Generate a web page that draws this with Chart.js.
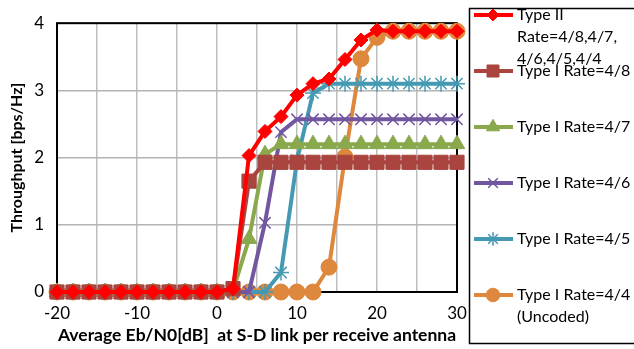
<!DOCTYPE html>
<html>
<head>
<meta charset="utf-8">
<script src="https://cdn.jsdelivr.net/npm/chart.js@4/dist/chart.umd.min.js"></script>
<style>
  html, body { margin: 0; padding: 0; background: #fff; }
  #wrap { width: 634px; height: 349px; position: relative; }
</style>
</head>
<body>
<div id="wrap"><canvas id="grafico"></canvas></div>
<script>
// Eb/N0 values (dB)
const ebno = [-20, -18, -16, -14, -12, -10, -8, -6, -4, -2, 0, 2, 4, 6, 8, 10, 12, 14, 16, 18, 20, 22, 24, 26, 28, 30];

// throughput [bps/Hz] per scheme
const typeII   = [0, 0, 0, 0, 0, 0, 0, 0, 0, 0, 0, 0.05, 2.03, 2.39, 2.61, 2.93, 3.10, 3.17, 3.46, 3.75, 3.90, 3.88, 3.88, 3.88, 3.88, 3.88];
const rate48   = [0, 0, 0, 0, 0, 0, 0, 0, 0, 0, 0, 0.05, 1.65, 1.93, 1.93, 1.93, 1.93, 1.93, 1.93, 1.93, 1.93, 1.93, 1.93, 1.93, 1.93, 1.93];
const rate47   = [0, 0, 0, 0, 0, 0, 0, 0, 0, 0, 0, 0.02, 0.79, 2.05, 2.20, 2.20, 2.20, 2.20, 2.20, 2.20, 2.20, 2.20, 2.20, 2.20, 2.20, 2.20];
const rate46   = [0, 0, 0, 0, 0, 0, 0, 0, 0, 0, 0, 0, 0, 1.03, 2.38, 2.57, 2.57, 2.57, 2.57, 2.57, 2.57, 2.57, 2.57, 2.57, 2.57, 2.57];
const rate45   = [0, 0, 0, 0, 0, 0, 0, 0, 0, 0, 0, 0, 0, 0, 0.29, 1.96, 2.96, 3.10, 3.10, 3.10, 3.10, 3.10, 3.10, 3.10, 3.10, 3.10];
const rate44   = [0, 0, 0, 0, 0, 0, 0, 0, 0, 0, 0, 0, 0, 0, 0, 0, 0, 0.37, 2.01, 3.47, 3.79, 3.88, 3.88, 3.88, 3.88, 3.88];

const xTicks = [-20, -10, 0, 10, 20, 30];
const yTicks = [0, 1, 2, 3, 4];

const legendLines = [
    ['Type II', 'Rate=4/8,4/7,', '4/6,4/5,4/4'],
    ['Type I Rate=4/8'],
    ['Type I Rate=4/7'],
    ['Type I Rate=4/6'],
    ['Type I Rate=4/5'],
    ['Type I Rate=4/4', '(Uncoded)']
];

const FONT = 'Lato, "Liberation Sans", sans-serif';

function pontos(valores) {
    return valores.map((v, i) => ({ x: ebno[i], y: v }));
}

function serie(label, valores, cor, estilo, raio, bw) {
    return {
        label: label,
        data: pontos(valores),
        borderColor: cor,
        backgroundColor: cor,
        borderWidth: 4,
        pointStyle: estilo,
        pointRadius: raio,
        pointBorderWidth: bw,
        pointBackgroundColor: cor,
        pointBorderColor: cor,
        showLine: true,
        tension: 0,
        clip: false
    };
}

// draws the frame around the plot area and the legend box on the right
const molduraLegenda = {
    id: 'molduraLegenda',
    beforeDatasetsDraw(chart) {
        const { ctx, chartArea: a } = chart;
        ctx.save();
        ctx.strokeStyle = '#000';
        ctx.lineWidth = 2;
        ctx.strokeRect(a.left, a.top, a.right - a.left, a.bottom - a.top);
        ctx.restore();
    },
    afterDraw(chart) {
        const ctx = chart.ctx;
        const ys = [15, 71, 127, 183, 239, 295];
        ctx.save();
        ctx.strokeStyle = '#000';
        ctx.lineWidth = 1.5;
        ctx.strokeRect(469.5, 8.5, 200, 335);
        chart.data.datasets.forEach((ds, i) => {
            const y = ys[i];
            ctx.strokeStyle = ds.borderColor;
            ctx.lineWidth = 4;
            ctx.beginPath();
            ctx.moveTo(474, y);
            ctx.lineTo(513, y);
            ctx.stroke();
            ctx.fillStyle = ds.borderColor;
            ctx.strokeStyle = ds.borderColor;
            ctx.lineWidth = ds.pointBorderWidth;
            Chart.helpers.drawPoint(ctx, {
                pointStyle: ds.pointStyle,
                radius: ds.pointRadius * 0.85,
                rotation: 0,
                borderWidth: ds.pointBorderWidth
            }, 493, y);
            ctx.fillStyle = '#000';
            ctx.font = '16px ' + FONT;
            ctx.textAlign = 'left';
            ctx.textBaseline = 'middle';
            legendLines[i].forEach((t, k) => {
                ctx.fillText(t, 517, y + k * 22);
            });
        });
        ctx.restore();
    }
};

const ctx = document.getElementById('grafico').getContext('2d');
const chart = new Chart(ctx, {
    type: 'scatter',
    data: {
        datasets: [
            serie('Type II Rate=4/8,4/7,4/6,4/5,4/4', typeII, '#FF0000', 'rectRot', 7, 1),
            serie('Type I Rate=4/8', rate48, '#A9443F', 'rect', 10, 1),
            serie('Type I Rate=4/7', rate47, '#8AA84C', 'triangle', 9, 1),
            serie('Type I Rate=4/6', rate46, '#7257A0', 'crossRot', 8, 1.5),
            serie('Type I Rate=4/5', rate45, '#4699B2', 'star', 8, 1.5),
            serie('Type I Rate=4/4 (Uncoded)', rate44, '#DE883D', 'circle', 8, 1)
        ]
    },
    options: {
        responsive: true,
        maintainAspectRatio: false,
        animation: false,
        layout: { padding: { top: 12, right: 177, left: 0, bottom: 0 } },
        plugins: {
            legend: { display: false },
            tooltip: { enabled: false }
        },
        scales: {
            x: {
                type: 'linear',
                min: -20,
                max: 30,
                afterFit(scale) { scale.height = 57; },
                grid: { color: '#BEBEBE', lineWidth: 1.5, drawTicks: false },
                border: { display: false },
                ticks: {
                    stepSize: 5,
                    padding: 11,
                    color: '#000',
                    maxRotation: 0,
                    font: { family: FONT, size: 17 },
                    callback: (v) => xTicks.includes(v) ? String(v) : ''
                },
                title: {
                    display: true,
                    text: 'Average Eb/N0[dB]  at S-D link per receive antenna',
                    color: '#000',
                    font: { family: FONT, size: 17.5, weight: 'bold' },
                    padding: { top: 3, bottom: 3 }
                }
            },
            y: {
                min: 0,
                max: 4,
                afterFit(scale) { scale.width = 57; },
                grid: { color: '#B4B4B4', lineWidth: 1.5, drawTicks: false },
                border: { display: false },
                ticks: {
                    stepSize: 1,
                    padding: 13,
                    color: '#000',
                    font: { family: FONT, size: 17 },
                    callback: (v) => yTicks.includes(v) ? String(v) : ''
                },
                title: {
                    display: true,
                    text: 'Throughput [bps/Hz]',
                    color: '#000',
                    font: { family: FONT, size: 16, weight: 'bold' },
                    padding: { top: 7, bottom: 4 }
                }
            }
        }
    },
    plugins: [molduraLegenda]
});
</script>
</body>
</html>
